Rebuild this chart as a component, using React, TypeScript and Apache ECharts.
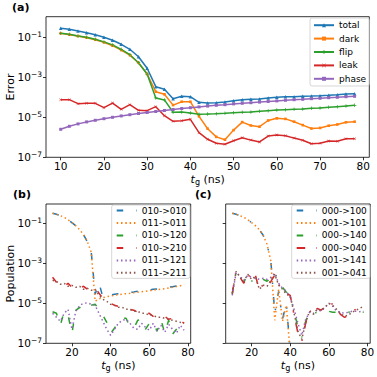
import React, { useEffect, useRef } from 'react';
import * as echarts from 'echarts';

// gate time t_g (ns)
const tg = [10, 12, 14, 16, 18, 20, 22, 24, 26, 28, 30, 32, 34, 36, 38, 40, 42, 44, 46, 48, 50, 52, 54, 56, 58, 60, 62, 64, 66, 68, 70, 72, 74, 76, 78];

// (a) error budget
const errTotal = [2.82e-1, 2.51e-1, 2.04e-1, 1.70e-1, 1.35e-1, 1.0e-1, 7.08e-2, 4.47e-2, 2.51e-2, 1.07e-2, 2.82e-3, 3.39e-4, 2.51e-4, 8.51e-5, 1.12e-4, 1.07e-4, 5.62e-5, 5.13e-5, 5.37e-5, 5.75e-5, 6.76e-5, 7.59e-5, 7.94e-5, 8.13e-5, 9.12e-5, 1.0e-4, 1.07e-4, 1.07e-4, 1.12e-4, 1.15e-4, 1.20e-4, 1.26e-4, 1.35e-4, 1.48e-4, 1.51e-4];
const errDark = [1.58e-1, 1.35e-1, 1.15e-1, 9.55e-2, 7.59e-2, 5.62e-2, 3.80e-2, 2.29e-2, 1.29e-2, 5.37e-3, 1.45e-3, 1.91e-4, 1.41e-4, 4.07e-5, 6.03e-5, 6.03e-5, 1.12e-5, 2.69e-6, 1.05e-6, 7.59e-7, 2.29e-6, 5.75e-6, 3.89e-6, 3.39e-6, 6.92e-6, 8.91e-6, 8.32e-6, 6.03e-6, 4.07e-6, 2.75e-6, 2.95e-6, 3.80e-6, 4.37e-6, 5.62e-6, 6.03e-6];
const errFlip = [1.58e-1, 1.41e-1, 1.15e-1, 1.0e-1, 7.94e-2, 5.89e-2, 4.17e-2, 2.51e-2, 1.35e-2, 5.37e-3, 1.45e-3, 9.33e-5, 7.41e-5, 1.78e-5, 1.82e-5, 1.62e-5, 1.41e-5, 1.45e-5, 1.51e-5, 1.58e-5, 1.70e-5, 1.78e-5, 1.82e-5, 2.0e-5, 2.14e-5, 2.29e-5, 2.40e-5, 2.51e-5, 2.57e-5, 2.82e-5, 2.95e-5, 3.16e-5, 3.39e-5, 3.63e-5, 3.98e-5];
const errLeak = [7.59e-5, 7.59e-5, 4.79e-5, 5.01e-5, 5.01e-5, 3.02e-5, 5.13e-5, 2.51e-5, 4.27e-5, 2.24e-5, 2.14e-5, 3.39e-5, 1.20e-5, 6.31e-6, 6.76e-6, 7.94e-6, 1.70e-6, 7.94e-7, 5.01e-7, 4.47e-7, 6.76e-7, 9.55e-7, 7.24e-7, 5.89e-7, 1.15e-6, 1.32e-6, 1.20e-6, 9.12e-7, 7.08e-7, 4.79e-7, 5.01e-7, 6.46e-7, 6.31e-7, 8.51e-7, 8.51e-7];
const errPhase = [2.51e-6, 3.55e-6, 4.68e-6, 5.89e-6, 7.08e-6, 8.51e-6, 1.0e-5, 1.17e-5, 1.35e-5, 1.55e-5, 1.74e-5, 1.95e-5, 2.19e-5, 2.45e-5, 2.75e-5, 3.02e-5, 3.31e-5, 3.63e-5, 3.98e-5, 4.27e-5, 4.68e-5, 5.01e-5, 5.37e-5, 5.75e-5, 6.17e-5, 6.61e-5, 7.08e-5, 7.59e-5, 7.94e-5, 8.51e-5, 8.91e-5, 9.55e-5, 1.0e-4, 1.07e-4, 1.12e-4];

// (b) populations
const pB_010_010 = [3.16e-1, 2.82e-1, 2.4e-1, 2.0e-1, 1.51e-1, 1.07e-1, 7.59e-2, 4.79e-2, 2.69e-2, 1.2e-2, 3.55e-3, 2.82e-5, 1.05e-4, 2.0e-5, 2.4e-5, 2.63e-5, 2.82e-5, 3.02e-5, 3.16e-5, 3.31e-5, 3.55e-5, 3.72e-5, 3.98e-5, 4.17e-5, 4.47e-5, 4.68e-5, 5.01e-5, 5.25e-5, 5.5e-5, 5.89e-5, 6.31e-5, 6.76e-5, 7.24e-5, 7.94e-5, 8.51e-5];
const pB_011_011 = [3.16e-1, 2.82e-1, 2.4e-1, 2.0e-1, 1.51e-1, 1.07e-1, 7.59e-2, 4.79e-2, 2.69e-2, 1.2e-2, 3.55e-3, 1.26e-5, 1.66e-5, 1.91e-5, 2.14e-5, 2.34e-5, 2.51e-5, 2.69e-5, 2.88e-5, 3.02e-5, 3.16e-5, 3.39e-5, 3.55e-5, 3.8e-5, 3.98e-5, 4.27e-5, 4.47e-5, 4.79e-5, 5.01e-5, 5.37e-5, 5.75e-5, 6.31e-5, 6.92e-5, 7.59e-5, 8.32e-5];
const pB_010_120 = [3.8e-6, 3.16e-6, 7.94e-7, 3.98e-6, 2.51e-6, 3.16e-7, 4.47e-6, 6.31e-6, 4.47e-6, 5.62e-6, 7.94e-6, 8.91e-6, 5.01e-6, 2.51e-6, 1.12e-6, 3.16e-7, 5.62e-7, 1.26e-6, 1.78e-6, 1.78e-6, 6.31e-7, 5.62e-7, 1.41e-6, 1.58e-6, 5.01e-7, 1.0e-6, 1.26e-6, 3.98e-7, 1.58e-6, 3.16e-7, 1.41e-6, 2.82e-7, 5.01e-7, 6.31e-7, 5.01e-7];
const pB_010_210 = [2.0e-4, 1.12e-4, 1.26e-4, 7.08e-5, 1.0e-4, 6.31e-5, 7.94e-5, 5.62e-5, 7.08e-5, 5.01e-5, 5.01e-5, 6.31e-5, 3.16e-5, 1.78e-5, 1.41e-5, 1.0e-5, 7.94e-6, 7.08e-6, 6.31e-6, 5.62e-6, 5.01e-6, 4.47e-6, 3.55e-6, 3.98e-6, 2.82e-6, 3.16e-6, 2.24e-6, 2.51e-6, 2.0e-6, 2.24e-6, 1.58e-6, 1.78e-6, 1.26e-6, 1.41e-6, 1.0e-6];
const pB_011_121 = [3.16e-6, 2.0e-6, 1.26e-6, 3.16e-6, 5.01e-6, 5.01e-7, 3.98e-6, 7.94e-6, 1.0e-5, 1.05e-5, 8.91e-6, 7.94e-6, 3.16e-6, 1.26e-6, 5.01e-7, 2.51e-7, 5.01e-7, 1.0e-6, 1.41e-6, 1.58e-6, 1.0e-6, 5.62e-7, 5.01e-7, 1.0e-6, 6.31e-7, 4.47e-7, 1.0e-6, 3.98e-7, 7.94e-7, 3.55e-7, 8.91e-7, 5.01e-7, 3.16e-7, 7.94e-7, 4.47e-7];
const pB_011_211 = [1.41e-4, 1.26e-4, 8.91e-5, 1.0e-4, 7.08e-5, 7.94e-5, 6.31e-5, 7.08e-5, 5.01e-5, 5.62e-5, 4.47e-5, 5.01e-5, 2.51e-5, 1.58e-5, 1.26e-5, 8.91e-6, 7.94e-6, 6.31e-6, 6.31e-6, 5.01e-6, 5.01e-6, 3.98e-6, 3.98e-6, 3.16e-6, 3.16e-6, 2.51e-6, 2.51e-6, 2.0e-6, 2.0e-6, 1.78e-6, 1.58e-6, 1.41e-6, 1.26e-6, 1.12e-6, 1.0e-6];

// (c) populations (000->100 and 001->101 drop below the axis after 40 ns)
const pC_000_100 = [3.16e-1, 2.82e-1, 2.4e-1, 2.0e-1, 1.51e-1, 1.07e-1, 7.59e-2, 4.79e-2, 2.51e-2, 8.91e-3, 1.26e-3, 3.16e-6, 3.98e-5, 1.58e-6, 1.0e-5, 3.98e-8];
const pC_001_101 = [3.16e-1, 2.82e-1, 2.4e-1, 2.0e-1, 1.51e-1, 1.07e-1, 7.59e-2, 4.79e-2, 2.51e-2, 8.91e-3, 1.26e-3, 1.41e-6, 5.01e-5, 1.26e-6, 7.94e-6, 3.16e-8];
const pC_000_140 = [2.82e-5, 3.98e-4, 1.78e-4, 1.12e-4, 2.82e-4, 1.26e-4, 2.0e-4, 1.41e-4, 1.58e-4, 1.26e-4, 1.78e-4, 3.55e-4, 1.12e-4, 6.31e-5, 3.55e-5, 2.24e-5, 3.98e-6, 6.31e-7, 2.0e-7, 1.26e-6, 3.98e-6, 3.16e-6, 3.55e-6, 3.98e-6, 3.55e-6, 3.98e-6, 3.55e-6, 3.55e-6, 3.98e-6, 3.55e-6, 3.55e-6, 3.8e-6, 3.55e-6, 3.55e-6, 3.55e-6];
const pC_000_040 = [3.16e-5, 4.47e-4, 2.0e-4, 1.0e-4, 3.16e-4, 1.41e-4, 2.51e-4, 4.47e-5, 8.91e-5, 6.31e-5, 1.26e-4, 2.51e-4, 8.91e-5, 5.01e-5, 3.16e-5, 2.51e-5, 2.51e-6, 3.16e-7, 1.26e-7, 1.0e-6, 4.47e-6, 2.51e-6, 5.62e-6, 4.47e-6, 7.08e-6, 1.12e-5, 8.91e-6, 5.01e-6, 2.82e-6, 2.0e-6, 2.24e-6, 3.98e-6, 5.01e-6, 6.31e-6, 7.94e-6];
const pC_001_141 = [2.51e-5, 3.55e-4, 2.24e-4, 1.41e-4, 2.51e-4, 2.0e-4, 1.78e-4, 1.58e-4, 1.78e-4, 1.58e-4, 2.0e-4, 3.16e-4, 1.0e-4, 5.62e-5, 3.98e-5, 2.0e-5, 5.01e-6, 1.0e-6, 2.51e-7, 1.58e-6, 3.55e-6, 3.16e-6, 5.01e-6, 3.98e-6, 6.31e-6, 1.0e-5, 7.08e-6, 3.98e-6, 3.55e-6, 3.16e-6, 3.55e-6, 3.98e-6, 3.98e-6, 3.8e-6, 3.98e-6];
const pC_001_041 = [3.16e-5, 3.98e-4, 2.0e-4, 1.26e-4, 2.82e-4, 1.58e-4, 2.24e-4, 5.01e-5, 7.94e-5, 7.08e-5, 1.41e-4, 2.82e-4, 7.94e-5, 5.01e-5, 2.82e-5, 2.24e-5, 3.16e-6, 3.98e-7, 1.58e-7, 1.12e-6, 3.98e-6, 2.82e-6, 5.01e-6, 4.47e-6, 6.31e-6, 1.0e-5, 7.94e-6, 5.01e-6, 3.16e-6, 2.24e-6, 2.51e-6, 3.55e-6, 4.47e-6, 5.62e-6, 7.08e-6];

// axis ticks
const xTicksA = [10, 20, 30, 40, 50, 60, 70, 80];
const xTicksBC = [20, 40, 60, 80];
const yTicks = [1e-7, 1e-5, 1e-3, 1e-1];

const FONT = 'DejaVu Sans';
const C = {
  blue: '#1f77b4', orange: '#ff7f0e', green: '#2ca02c', red: '#d62728', purple: '#9467bd', brown: '#8c564b',
};
const DASH = [6.5, 13];
const DOT = [1.5, 2.8];
const DASHDOT = [6.5, 13, 1.5, 13];
const DASHDOT_RED = [8.5, 11, 1.5, 11];

const plusPath = 'path://M4,0H6V4H10V6H6V10H4V6H0V4H4Z';
const xPath = 'path://M1,0L5,4L9,0L10,1L6,5L10,9L9,10L5,6L1,10L0,9L4,5L0,1Z';
const barPath = 'path://M4,0H6V10H4Z';

const pairs = (xs: number[], ys: number[]) => ys.map((y, i) => [xs[i], y]);

function yLabelFmt(v: number) {
  const e = Math.round(Math.log10(v));
  return `{b|10}{s|${e < 0 ? '\u2212' : ''}${Math.abs(e)}}`;
}

const yRich = {
  b: { fontFamily: FONT, fontSize: 10.5, lineHeight: 14, color: '#000' },
  s: { fontFamily: FONT, fontSize: 7.5, lineHeight: 7, verticalAlign: 'top', color: '#000' },
};

const xNameRich = {
  i: { fontFamily: FONT, fontSize: 11, fontStyle: 'italic', lineHeight: 14, color: '#000' },
  sub: { fontFamily: FONT, fontSize: 8, lineHeight: 8, verticalAlign: 'bottom', color: '#000' },
  n: { fontFamily: FONT, fontSize: 11, lineHeight: 14, color: '#000' },
};

function makeX(gridIndex: number, ticks: number[]) {
  return {
    type: 'value', gridIndex, min: 6.6, max: 81.4,
    name: '{i|t}{sub|g}{n| (ns)}', nameLocation: 'middle', nameGap: 15,
    nameTextStyle: { rich: xNameRich },
    axisLine: { show: false }, splitLine: { show: false },
    axisTick: { show: true, length: 3, customValues: ticks, lineStyle: { color: '#000', width: 0.8 } },
    axisLabel: { show: true, customValues: ticks, margin: 3, fontFamily: FONT, fontSize: 10.5, color: '#000' },
  };
}

function makeY(gridIndex: number, max: number, showLabels: boolean, name: string) {
  return {
    type: 'log', logBase: 10, gridIndex, min: 1e-7, max,
    name, nameLocation: 'middle', nameGap: 30, nameMoveOverlap: false,
    nameTextStyle: { fontFamily: FONT, fontSize: 11, color: '#000' },
    axisLine: { show: false }, splitLine: { show: false }, minorTick: { show: false },
    axisTick: { show: true, length: 3, customValues: yTicks, lineStyle: { color: '#000', width: 0.8 } },
    axisLabel: { show: showLabels, customValues: yTicks, margin: 4, formatter: yLabelFmt, rich: yRich },
  };
}

function lineSeries(name: string, xi: number, data: number[][], color: string, dash: number[]) {
  return {
    type: 'line', name, xAxisIndex: xi, yAxisIndex: xi, data, clip: true,
    showSymbol: false, symbol: 'none',
    itemStyle: { color },
    lineStyle: { color, width: 1.5, type: dash },
  };
}

function markerSeries(name: string, data: number[][], color: string, symbol: string, size: number) {
  return {
    type: 'line', name, xAxisIndex: 0, yAxisIndex: 0, data, clip: true,
    showSymbol: true, showAllSymbol: true, symbol, symbolSize: size,
    itemStyle: { color, borderWidth: 0 }, lineStyle: { color, width: 1.5 },
  };
}

const legendBase = {
  orient: 'vertical', itemWidth: 20, selectedMode: false,
  borderColor: '#cccccc', borderWidth: 0.8, borderRadius: 2, backgroundColor: 'rgba(255,255,255,0.8)',
  textStyle: { fontFamily: FONT, fontSize: 9, color: '#000' },
};

export default function App() {
  const ref = useRef<HTMLDivElement>(null);
  useEffect(() => {
    if (!ref.current) return;
    const chart = echarts.init(ref.current, null, { renderer: 'svg' });
    const option: any = {
      animation: false,
      backgroundColor: '#ffffff',
      textStyle: { fontFamily: FONT },
      grid: [
        { left: 46, top: 16.7, width: 323.3, height: 140.6, show: true, borderColor: '#000', borderWidth: 0.8, backgroundColor: 'transparent', containLabel: false, outerBoundsMode: 'none' },
        { left: 46, top: 204, width: 144.7, height: 139.3, show: true, borderColor: '#000', borderWidth: 0.8, backgroundColor: 'transparent', containLabel: false, outerBoundsMode: 'none' },
        { left: 225.7, top: 204, width: 144.5, height: 139.3, show: true, borderColor: '#000', borderWidth: 0.8, backgroundColor: 'transparent', containLabel: false, outerBoundsMode: 'none' },
      ],
      xAxis: [makeX(0, xTicksA), makeX(1, xTicksBC), makeX(2, xTicksBC)],
      yAxis: [makeY(0, 1.07, true, 'Error'), makeY(1, 0.92, true, 'Population'), makeY(2, 0.92, false, '')],
      legend: [
        { ...legendBase, left: 310, top: 18, itemHeight: 5, itemGap: 4.4, padding: [2.7, 3, 2.7, 3], data: ['total', 'dark', 'flip', 'leak', 'phase'] },
        { ...legendBase, left: 111.7, top: 205, itemHeight: 10, itemGap: 3.47, padding: [1, 3, 1, 4], itemStyle: { opacity: 0 }, data: ['010->010', '011->011', '010->120', '010->210', '011->121', '011->211'] },
        { ...legendBase, left: 291.7, top: 205, itemHeight: 10, itemGap: 3.47, padding: [1, 3, 1, 4], itemStyle: { opacity: 0 }, data: ['000->100', '001->101', '000->140', '000->040', '001->141', '001->041'] },
      ],
      graphic: [
        { type: 'text', left: 12, top: 2, style: { text: '(a)', font: `bold 11px "${FONT}"`, fill: '#000' } },
        { type: 'text', left: 13, top: 189, style: { text: '(b)', font: `bold 11px "${FONT}"`, fill: '#000' } },
        { type: 'text', left: 195, top: 189, style: { text: '(c)', font: `bold 11px "${FONT}"`, fill: '#000' } },
      ],
      series: [
        markerSeries('total', pairs(tg, errTotal), C.blue, 'triangle', 3.5),
        markerSeries('dark', pairs(tg, errDark), C.orange, 'rect', 2.6),
        markerSeries('flip', pairs(tg, errFlip), C.green, plusPath, 3.5),
        markerSeries('leak', pairs(tg, errLeak), C.red, xPath, 3),
        markerSeries('phase', pairs(tg, errPhase), C.purple, barPath, 3),

        lineSeries('010->010', 1, pairs(tg, pB_010_010), C.blue, DASH),
        lineSeries('011->011', 1, pairs(tg, pB_011_011), C.orange, DOT),
        lineSeries('010->120', 1, pairs(tg, pB_010_120), C.green, DASH),
        lineSeries('010->210', 1, pairs(tg, pB_010_210), C.red, DASH),
        lineSeries('011->121', 1, pairs(tg, pB_011_121), C.purple, DOT),
        lineSeries('011->211', 1, pairs(tg, pB_011_211), C.brown, DOT),

        lineSeries('000->100', 2, pairs(tg, pC_000_100), C.blue, DASHDOT),
        lineSeries('001->101', 2, pairs(tg, pC_001_101), C.orange, DOT),
        lineSeries('000->140', 2, pairs(tg, pC_000_140), C.green, DASHDOT),
        lineSeries('000->040', 2, pairs(tg, pC_000_040), C.red, DASHDOT_RED),
        lineSeries('001->141', 2, pairs(tg, pC_001_141), C.purple, DOT),
        lineSeries('001->041', 2, pairs(tg, pC_001_041), C.brown, DOT),
      ],
    };
    chart.setOption(option);
    return () => chart.dispose();
  }, []);
  return (
    <div
      ref={ref}
      style={{ position: 'fixed', left: 0, top: 0, width: 377, height: 377, background: '#fff' }}
    />
  );
}
